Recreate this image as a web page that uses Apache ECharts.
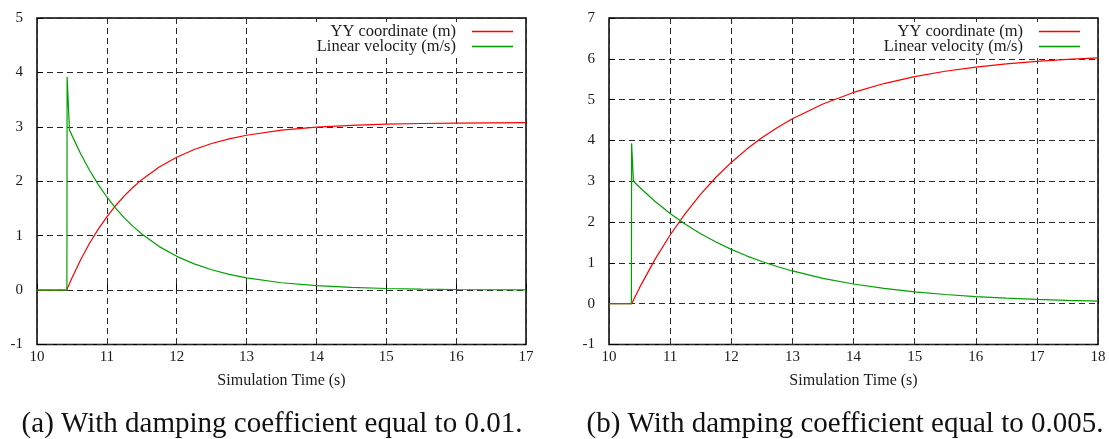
<!DOCTYPE html>
<html>
<head>
<meta charset="utf-8">
<script src="https://cdn.jsdelivr.net/npm/echarts@6/dist/echarts.min.js"></script>
<style>
  html, body { margin: 0; padding: 0; background: #fff; }
  #chart { width: 1109px; height: 439px; }
</style>
</head>
<body>
<div id="chart"></div>
<script>
// Panel (a): damping coefficient 0.01 — [time (s), value]
const yyCoordA = [
  [10, 0], [10.425, 0], [10.5, 0.223], [10.625, 0.558], [10.75, 0.855], [10.875, 1.116],
  [11, 1.347], [11.125, 1.550], [11.25, 1.730], [11.375, 1.889], [11.5, 2.029], [11.75, 2.261],
  [12, 2.442], [12.25, 2.583], [12.5, 2.693], [12.75, 2.779], [13, 2.845], [13.5, 2.938],
  [14, 2.994], [14.5, 3.028], [15, 3.048], [15.5, 3.061], [16, 3.068], [16.5, 3.073], [17, 3.076]
];
const velocityA = [
  [10, 0], [10.428, 0], [10.431, 3.92], [10.465, 2.94], [10.5, 2.843], [10.625, 2.504],
  [10.75, 2.206], [10.875, 1.943], [11, 1.711], [11.125, 1.507], [11.25, 1.328], [11.375, 1.170],
  [11.5, 1.030], [11.75, 0.799], [12, 0.620], [12.25, 0.481], [12.5, 0.373], [12.75, 0.290],
  [13, 0.225], [13.5, 0.135], [14, 0.081], [14.5, 0.049], [15, 0.029], [15.5, 0.018],
  [16, 0.011], [16.5, 0.006], [17, 0.004]
];

// Panel (b): damping coefficient 0.005 — [time (s), value]
const yyCoordB = [
  [10, 0], [10.37, 0], [10.5, 0.393], [10.75, 1.079], [11, 1.683], [11.25, 2.215],
  [11.5, 2.684], [11.75, 3.098], [12, 3.461], [12.25, 3.782], [12.5, 4.064], [12.75, 4.312],
  [13, 4.531], [13.5, 4.894], [14, 5.176], [14.5, 5.394], [15, 5.564], [15.5, 5.695],
  [16, 5.797], [16.5, 5.876], [17, 5.938], [17.5, 5.985], [18, 6.022]
];
const velocityB = [
  [10, 0], [10.366, 0], [10.37, 3.93], [10.40, 3.0], [10.5, 2.852], [10.75, 2.511],
  [11, 2.212], [11.25, 1.949], [11.5, 1.716], [11.75, 1.512], [12, 1.331], [12.25, 1.173],
  [12.5, 1.033], [12.75, 0.910], [13, 0.802], [13.5, 0.622], [14, 0.483], [14.5, 0.375],
  [15, 0.290], [15.5, 0.225], [16, 0.175], [16.5, 0.135], [17, 0.105], [17.5, 0.082], [18, 0.064]
];

const seriesNames = ['YY coordinate (m)', 'Linear velocity (m/s)'];
const axisTitle = 'Simulation Time (s)';
const captions = [
  '(a) With damping coefficient equal to 0.01.',
  '(b) With damping coefficient equal to 0.005.'
];
const xRangeA = [10, 17], yRangeA = [-1, 5];
const xRangeB = [10, 18], yRangeB = [-1, 7];

const FONT = 'Liberation Serif';
const TEXT = '#1a1a1a';
const RED = '#ff0000';
const GREEN = '#00a000';

const dashed = { show: true, lineStyle: { color: '#2a2a2a', width: 1, type: [6, 4] } };

function xAxis(gridIndex, range) {
  return {
    type: 'value', gridIndex, min: range[0], max: range[1], interval: 1,
    name: axisTitle, nameLocation: 'middle', nameGap: 28,
    nameTextStyle: { fontFamily: FONT, fontSize: 16, color: TEXT },
    axisLine: { show: false },
    axisTick: { show: true, inside: true, length: 6, lineStyle: { color: '#000', width: 1 } },
    axisLabel: { fontFamily: FONT, fontSize: 15, color: TEXT, margin: 5 },
    splitLine: dashed
  };
}
function yAxis(gridIndex, range) {
  return {
    type: 'value', gridIndex, min: range[0], max: range[1], interval: 1,
    axisLine: { show: false },
    axisTick: { show: true, inside: true, length: 6, lineStyle: { color: '#000', width: 1 } },
    axisLabel: { fontFamily: FONT, fontSize: 15, color: TEXT, margin: 14 },
    splitLine: dashed
  };
}
function line(name, data, idx, color) {
  return {
    type: 'line', name, data, xAxisIndex: idx, yAxisIndex: idx,
    symbol: 'none', showSymbol: false, smooth: false,
    lineStyle: { color, width: 1.2 }, itemStyle: { color },
    z: 3
  };
}
function legend(right) {
  return {
    data: seriesNames, orient: 'vertical', align: 'right',
    right, top: 22, icon: 'rect', itemWidth: 41, itemHeight: 1.5, itemGap: -2,
    selectedMode: false, backgroundColor: '#fff', padding: [1, 2, 0, 4],
    textStyle: { fontFamily: FONT, fontSize: 16.5, color: TEXT, lineHeight: 15, padding: [0, 11, 0, 0] }
  };
}

const chart = echarts.init(document.getElementById('chart'), null, { renderer: 'canvas' });
chart.setOption({
  animation: false,
  backgroundColor: '#fff',
  grid: [
    { left: 37, top: 18, width: 489, height: 326.5, show: true, borderColor: '#000', borderWidth: 1.5, backgroundColor: 'transparent' },
    { left: 609, top: 18, width: 489, height: 326.5, show: true, borderColor: '#000', borderWidth: 1.5, backgroundColor: 'transparent' }
  ],
  xAxis: [xAxis(0, xRangeA), xAxis(1, xRangeB)],
  yAxis: [yAxis(0, yRangeA), yAxis(1, yRangeB)],
  legend: [legend(594), legend(27)],
  series: [
    line(seriesNames[0], yyCoordA, 0, RED),
    line(seriesNames[1], velocityA, 0, GREEN),
    line(seriesNames[0], yyCoordB, 1, RED),
    line(seriesNames[1], velocityB, 1, GREEN)
  ],
  graphic: [
    { type: 'text', x: 272, y: 424, style: { text: captions[0], fontFamily: FONT, fontSize: 29, fill: '#111', textAlign: 'center', textVerticalAlign: 'middle' } },
    { type: 'text', x: 845, y: 424, style: { text: captions[1], fontFamily: FONT, fontSize: 29, fill: '#111', textAlign: 'center', textVerticalAlign: 'middle' } }
  ]
});
</script>
</body>
</html>
